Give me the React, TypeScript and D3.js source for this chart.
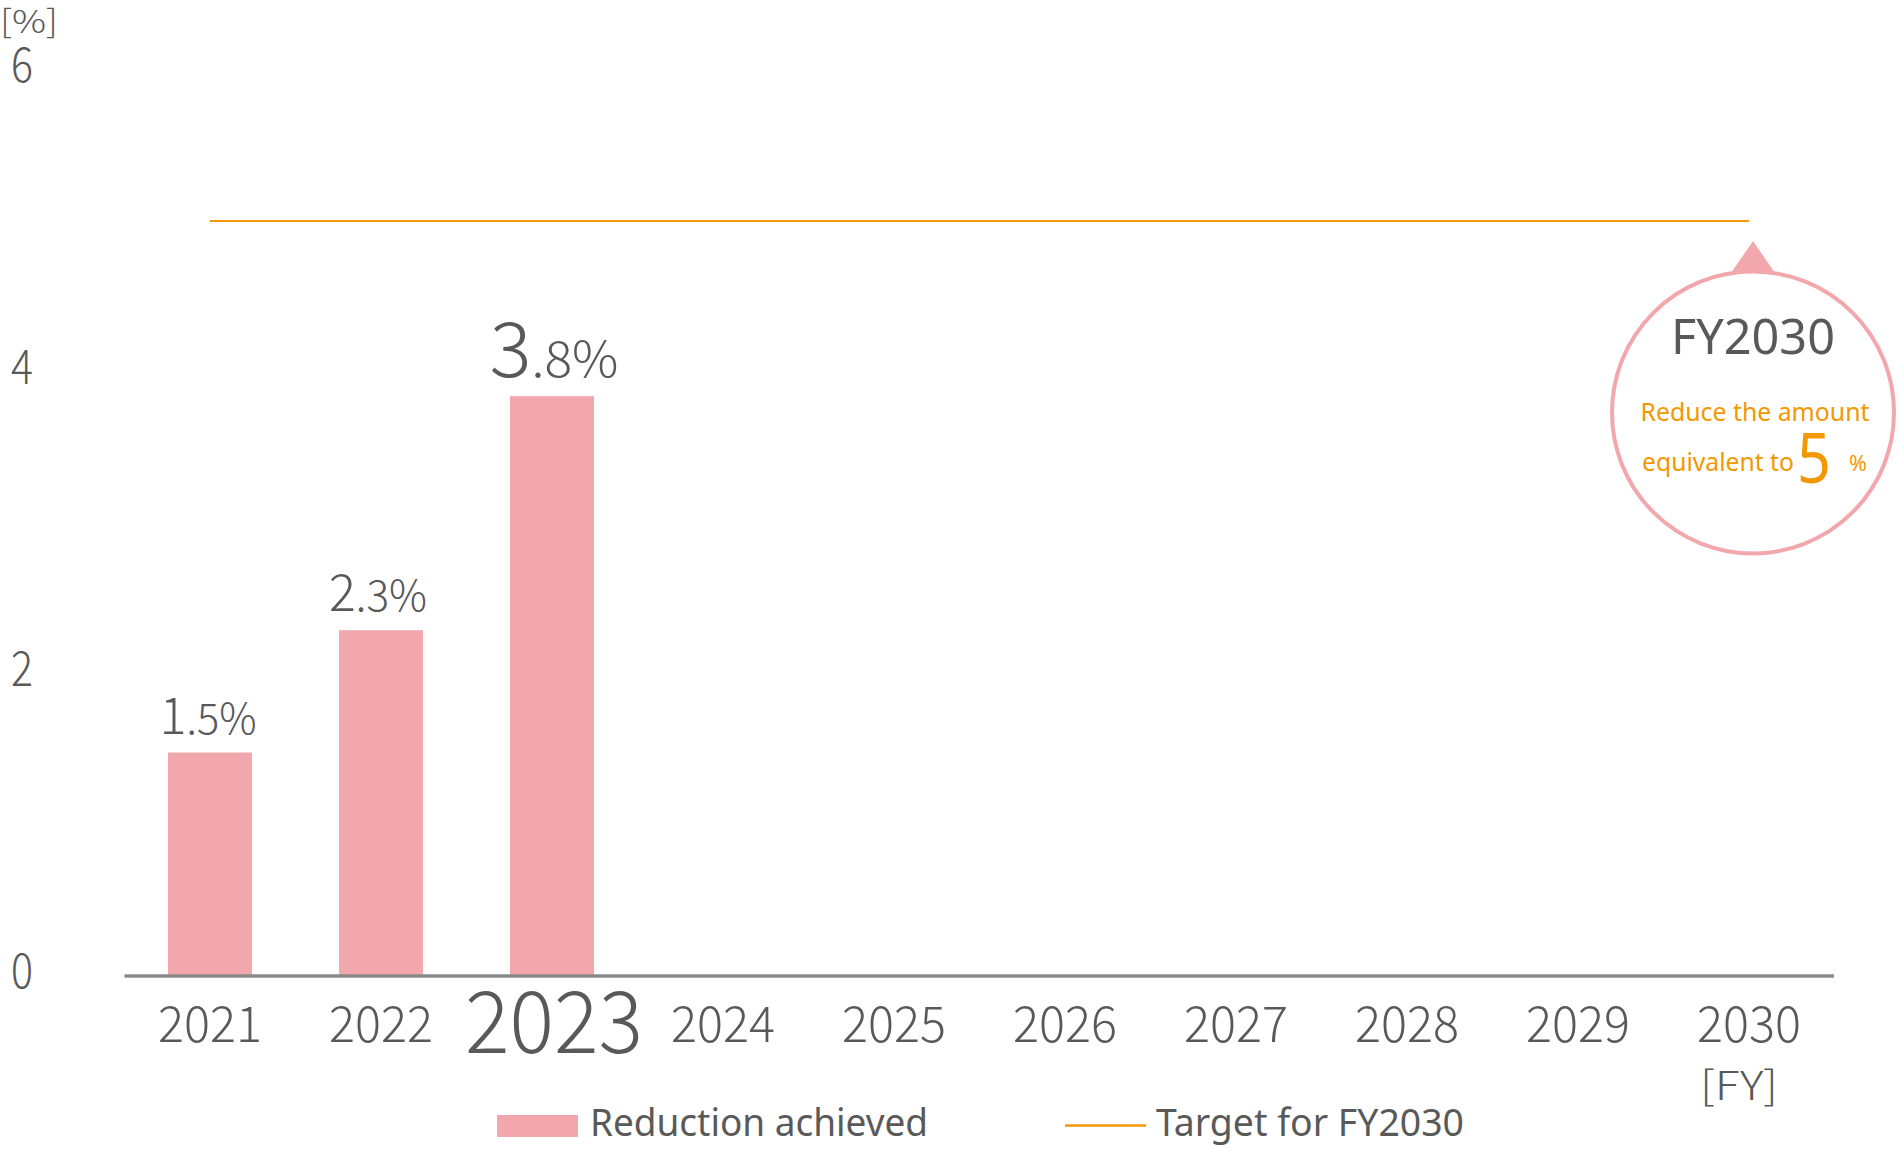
import React from "react";
import * as d3 from "d3";

const years = ["2021", "2022", "2023", "2024", "2025", "2026", "2027", "2028", "2029", "2030"];
const achievedYears = ["2021", "2022", "2023"];
const achievedValues = [1.48, 2.29, 3.84];
const achievedLabels = [["1", ".5%"], ["2", ".3%"], ["3", ".8%"]];
const targetValue = 5;
const yTicks = [0, 2, 4, 6];
const highlightYear = "2023";
const legendItems = ["Reduction achieved", "Target for FY2030"];

const TEXT = "#595959";
const PINK = "#f2a7ad";
const ORANGE = "#f39800";
const AXIS = "#8a8a8a";
const FONT = "'Noto Sans', sans-serif";
const NUMFONT = "'Noto Sans CJK JP', 'Noto Sans', sans-serif";

export default function App() {
  const x = d3.scalePoint<string>().domain(years).range([210, 1749]);
  const y = d3.scaleLinear().domain([0, 6]).range([976, 70]);
  const barW = 84;

  const labelSizes = [
    { big: 51, small: 42, len: 97 },
    { big: 51, small: 43, len: 98 },
    { big: 76, small: 50, len: 129 },
  ];

  return (
    <svg
      width={1901}
      height={1151}
      style={{ position: "absolute", left: 0, top: 0, background: "#fff" }}
      fontFamily={FONT}
    >
      {/* y unit */}
      <text x={0} y={33} fontSize={32} fill={TEXT} fontFamily={NUMFONT} fontWeight={300} textLength={58} lengthAdjust="spacingAndGlyphs">
        [%]
      </text>
      {/* y tick labels */}
      {yTicks.map((t) => (
        <text
          key={t}
          x={22}
          y={y(t) + 12}
          fontSize={48}
          fill={TEXT}
          fontFamily={NUMFONT}
          fontWeight={300}
          textAnchor="middle"
          textLength={22}
          lengthAdjust="spacingAndGlyphs"
        >
          {t}
        </text>
      ))}

      {/* target line */}
      <line
        x1={x(years[0])}
        x2={x(years[years.length - 1])}
        y1={y(targetValue)}
        y2={y(targetValue)}
        stroke={ORANGE}
        strokeWidth={2}
      />

      {/* bars */}
      {achievedYears.map((yr, i) => (
        <rect
          key={yr}
          x={(x(yr) as number) - barW / 2}
          y={y(achievedValues[i])}
          width={barW}
          height={y(0) - y(achievedValues[i])}
          fill={PINK}
        />
      ))}

      {/* bar labels */}
      {achievedYears.map((yr, i) => {
        const s = labelSizes[i];
        const top = y(achievedValues[i]);
        return (
          <text
            key={yr}
            x={(x(yr) as number) + (i === 0 ? -2 : i === 1 ? -3 : 2)}
            y={top - 19}
            fill={TEXT}
            fontFamily={NUMFONT}
            fontWeight={300}
            textAnchor="middle"
            textLength={s.len}
            lengthAdjust="spacingAndGlyphs"
          >
            <tspan fontSize={s.big}>{achievedLabels[i][0]}</tspan>
            <tspan fontSize={s.small}>{achievedLabels[i][1]}</tspan>
          </text>
        );
      })}

      {/* zero axis */}
      <line x1={124.5} x2={1834} y1={y(0)} y2={y(0)} stroke={AXIS} strokeWidth={3.5} />

      {/* x tick labels */}
      {years.map((yr) => {
        const big = yr === highlightYear;
        return (
          <text
            key={yr}
            x={(x(yr) as number) + (big ? 2 : 0)}
            y={big ? 1053 : 1042}
            fontSize={big ? 86 : 50}
            fill={TEXT}
            fontFamily={NUMFONT}
            fontWeight={300}
            textAnchor="middle"
            textLength={big ? 178 : 104}
            lengthAdjust="spacingAndGlyphs"
          >
            {yr}
          </text>
        );
      })}
      <text x={1739} y={1100} fontSize={40} fill={TEXT} fontFamily={NUMFONT} fontWeight={300} textAnchor="middle" textLength={78} lengthAdjust="spacingAndGlyphs">
        [FY]
      </text>

      {/* bubble */}
      <path d="M1753,241 L1731,273 L1775,273 Z" fill={PINK} />
      <circle cx={1753} cy={412.5} r={141} fill="#fff" stroke={PINK} strokeWidth={4} />
      <text x={1753} y={354} fontSize={50} fill={TEXT} textAnchor="middle" textLength={164} lengthAdjust="spacingAndGlyphs">
        FY2030
      </text>
      <text x={1755} y={421} fontSize={25} fill={ORANGE} textAnchor="middle" textLength={229} lengthAdjust="spacingAndGlyphs">
        Reduce the amount
      </text>
      <text x={1642} y={471} fontSize={25} fill={ORANGE} textLength={152} lengthAdjust="spacingAndGlyphs">
        equivalent to
      </text>
      <text x={1797} y={483} fontSize={70} fill={ORANGE} textLength={34} lengthAdjust="spacingAndGlyphs">
        {String(targetValue)}
      </text>
      <text x={1849} y={471} fontSize={22} fill={ORANGE} textLength={18} lengthAdjust="spacingAndGlyphs">
        %
      </text>

      {/* legend */}
      <rect x={497} y={1115} width={81} height={22} fill={PINK} />
      <text x={590} y={1136} fontSize={38} fill={TEXT} textLength={338} lengthAdjust="spacingAndGlyphs">
        {legendItems[0]}
      </text>
      <line x1={1065} x2={1146} y1={1125.5} y2={1125.5} stroke={ORANGE} strokeWidth={2.5} />
      <text x={1156} y={1136} fontSize={38} fill={TEXT} textLength={308} lengthAdjust="spacingAndGlyphs">
        {legendItems[1]}
      </text>
    </svg>
  );
}
